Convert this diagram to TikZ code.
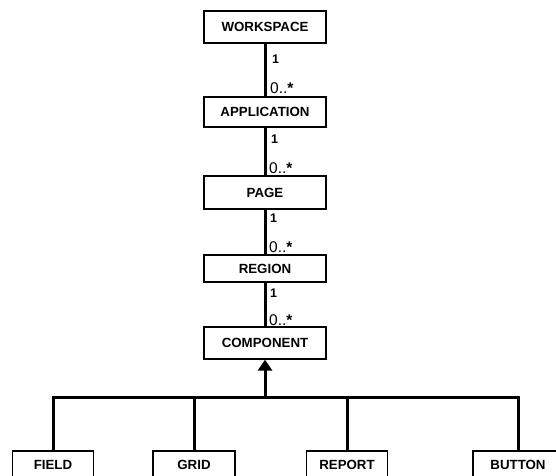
\documentclass[tikz,border=0pt]{standalone}
\usepackage{fontspec}
\setmainfont{Liberation Sans}
\usetikzlibrary{arrows.meta}
\newcommand{\mystar}{{\bfseries *}}
\tikzset{
  cls/.style={draw=black, line width=1.3pt, fill=white, inner sep=0pt,
    font=\fontsize{13.3}{15}\selectfont\bfseries},
  link/.style={line width=3pt, draw=black},
  one/.style={anchor=base west, inner sep=0pt, font=\fontsize{12.5}{14}\selectfont\bfseries},
  many/.style={anchor=base west, inner sep=0pt, font=\fontsize{15.5}{17}\selectfont},
}
\begin{document}
\begin{tikzpicture}[x=1pt,y=-1pt]
\useasboundingbox (0,0) rectangle (556,475);
\clip (0,0) rectangle (556,475);
% class boxes
\node[cls, minimum width=122pt, minimum height=32pt] (ws)  at (265,27)    {WORKSPACE};
\node[cls, minimum width=122pt, minimum height=30pt] (app) at (265,112)   {APPLICATION};
\node[cls, minimum width=122pt, minimum height=33pt] (pg)  at (265,192.5) {PAGE};
\node[cls, minimum width=122pt, minimum height=27pt] (reg) at (265,268.5) {REGION};
\node[cls, minimum width=122pt, minimum height=32pt] (cmp) at (265,343)   {COMPONENT};
% subclasses
\node[cls, minimum width=81pt, minimum height=28pt] (fld) at (53,465)  {FIELD};
\node[cls, minimum width=82pt, minimum height=28pt] (grd) at (194,465) {GRID};
\node[cls, minimum width=81pt, minimum height=28pt] (rep) at (347,465) {REPORT};
\node[cls, minimum width=90pt, minimum height=28pt] (btn) at (518,465) {BUTTON};
% associations
\draw[link] (ws.south)  -- (app.north);
\draw[link] (app.south) -- (pg.north);
\draw[link] (pg.south)  -- (reg.north);
\draw[link] (reg.south) -- (cmp.north);
% multiplicities
\node[one]  (m1a) at (272,63)  {1};
\node[many] (m1b) at (270,93)  {0..\mystar};
\node[one]  (m2a) at (271,143) {1};
\node[many] (m2b) at (269,173) {0..\mystar};
\node[one]  (m3a) at (270,222) {1};
\node[many] (m3b) at (269,252) {0..\mystar};
\node[one]  (m4a) at (270,297) {1};
\node[many] (m4b) at (269,325) {0..\mystar};
% generalization
\coordinate (hub) at (265,397);
\draw[link, line cap=rect] (fld.north) |- (btn.north |- hub) -- (btn.north);
\draw[link] (grd.north) -- (grd.north |- hub);
\draw[link] (rep.north) -- (rep.north |- hub);
\draw[link, -{Triangle[length=11pt,width=14pt]}] (hub) -- (cmp.south);
\end{tikzpicture}
\end{document}
